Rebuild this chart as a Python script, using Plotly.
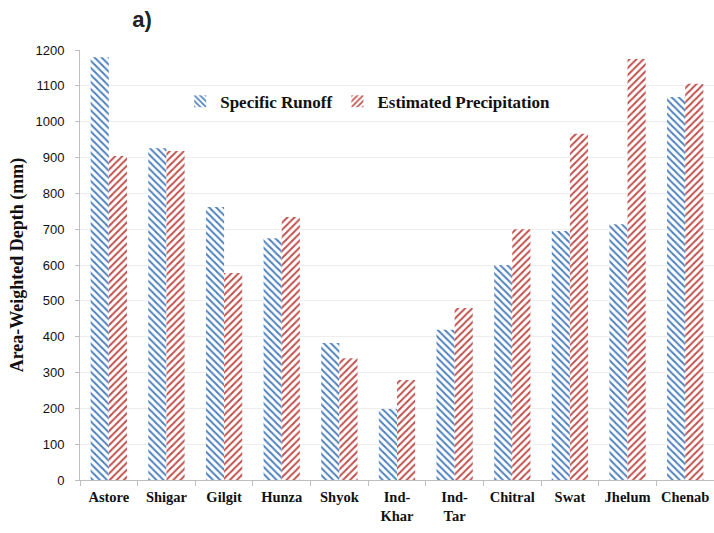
import plotly.graph_objects as go

categories = ["Astore", "Shigar", "Gilgit", "Hunza", "Shyok", "Ind-<br>Khar", "Ind-<br>Tar",
              "Chitral", "Swat", "Jhelum", "Chenab"]
specific_runoff = [1180, 926, 762, 675, 382, 198, 419, 600, 695, 714, 1069]
estimated_precip = [904, 918, 578, 734, 340, 279, 480, 700, 966, 1175, 1106]
y_ticks = list(range(0, 1201, 100))

BLUE = "#4F81BD"
RED = "#C0504D"

W, H = 714, 533

fig = go.Figure()
fig.add_trace(go.Bar(
    x=categories, y=specific_runoff, name="<b>Specific Runoff</b>",
    marker=dict(color="white", line=dict(width=0),
                pattern=dict(shape="\\", fgcolor=BLUE, bgcolor="white", fgopacity=1,
                             size=5, solidity=0.4, fillmode="replace")),
))
fig.add_trace(go.Bar(
    x=categories, y=estimated_precip, name="<b>Estimated Precipitation</b>",
    marker=dict(color="white", line=dict(width=0),
                pattern=dict(shape="/", fgcolor=RED, bgcolor="white", fgopacity=1,
                             size=5, solidity=0.4, fillmode="replace")),
))

fig.update_layout(
    width=W, height=H,
    margin=dict(l=80, r=0, t=50, b=53),
    paper_bgcolor="white", plot_bgcolor="white",
    barmode="group", bargap=0.37, bargroupgap=0,
    title=dict(text="<b>a)</b>", x=142/W, xanchor="center", y=1-19/H, yanchor="middle",
               font=dict(family="Liberation Sans", size=22, color="#222")),
    legend=dict(orientation="h", x=0.158, xanchor="left", y=0.88, yanchor="middle",
                font=dict(family="Liberation Serif", size=17, color="#111"),
                bgcolor="rgba(255,255,255,0)", traceorder="normal", itemwidth=30),
    showlegend=True,
)
fig.update_xaxes(
    type="category", tickson="boundaries", ticks="outside", ticklen=5,
    tickcolor="#BFBFBF", showline=True, linecolor="#BFBFBF", linewidth=1,
    tickfont=dict(family="Liberation Serif", size=14.5, color="#111"),
    tickangle=0, showgrid=False, automargin=False, ticklabelstandoff=4,
    tickprefix="<b>", ticksuffix="</b>",
)
fig.update_yaxes(
    range=[0, 1200], tickvals=y_ticks, ticks="outside", ticklen=4,
    tickcolor="#BFBFBF", showline=True, linecolor="#BFBFBF", linewidth=1,
    gridcolor="#EDEDED", gridwidth=1, automargin=False, ticklabelstandoff=8,
    tickfont=dict(family="Liberation Sans", size=13, color="#111"),
    tickprefix="<b>", ticksuffix="</b>",
    title=dict(text="<b>Area-Weighted Depth (mm)</b>", standoff=7,
               font=dict(family="Liberation Serif", size=18, color="#111")),
    zeroline=False,
)

fig.write_html("out.html", config={"displayModeBar": False},
               post_script="document.body.style.margin='0';document.body.style.overflow='hidden';")
